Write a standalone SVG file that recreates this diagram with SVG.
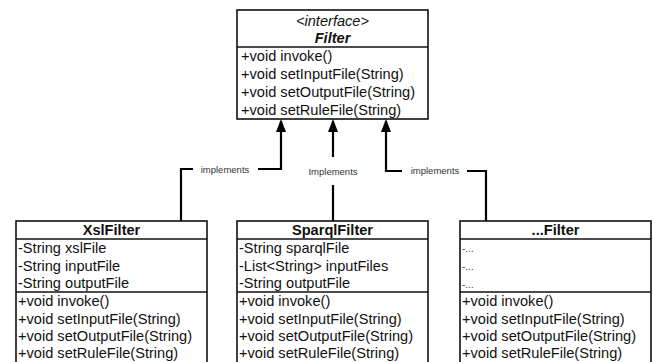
<svg xmlns="http://www.w3.org/2000/svg" width="653" height="362" viewBox="0 0 653 362">
<defs>
<style>
.box{fill:#fff;stroke:#111;stroke-width:1.6}
.div{stroke:#111;stroke-width:1.4}
.t{font-family:"Liberation Sans",Arial,sans-serif;font-size:14.6px;fill:#111}
.h{font-family:"Liberation Sans",Arial,sans-serif;font-size:14.6px;font-weight:bold;fill:#111}
.lbl{font-family:"Liberation Sans",Arial,sans-serif;font-size:9.5px;fill:#333}
.dots{font-family:"Liberation Sans",Arial,sans-serif;font-size:10px;fill:#444}
.conn{fill:none;stroke:#000;stroke-width:2.2}
.head{fill:#000}
</style>
</defs>
<rect width="653" height="362" fill="#fff"/>

<g id="connectors">
<path class="conn" d="M281,121 V169 H258"/>
<path class="conn" d="M193,169 H181 V221"/>
<path class="conn" d="M333,121 V157"/>
<path class="conn" d="M333,185 V221"/>
<path class="conn" d="M386,121 V171 H402"/>
<path class="conn" d="M467,171 H486 V221"/>
<path class="head" d="M281,119 L286,132 L276,132 Z"/>
<path class="head" d="M333,119 L338,132 L328,132 Z"/>
<path class="head" d="M386,119 L391,132 L381,132 Z"/>
<text class="lbl" x="225" y="173" text-anchor="middle">implements</text>
<text class="lbl" x="333" y="175" text-anchor="middle">Implements</text>
<text class="lbl" x="435" y="174" text-anchor="middle">implements</text>
</g>

<g id="Filter">
<rect class="box" x="237" y="10" width="191" height="109"/>
<line class="div" x1="237" y1="47" x2="428" y2="47"/>
<text class="t" x="332.5" y="26" text-anchor="middle" font-style="italic">&lt;interface&gt;</text>
<text class="h" x="332.5" y="43" text-anchor="middle" font-style="italic">Filter</text>
<text class="t" x="241" y="61">+void invoke()</text>
<text class="t" x="241" y="79">+void setInputFile(String)</text>
<text class="t" x="241" y="97">+void setOutputFile(String)</text>
<text class="t" x="241" y="115">+void setRuleFile(String)</text>
</g>

<g id="XslFilter">
<rect class="box" x="16" y="221" width="191" height="150"/>
<line class="div" x1="16" y1="239" x2="207" y2="239"/>
<line class="div" x1="16" y1="292" x2="207" y2="292"/>
<text class="h" x="111.5" y="235" text-anchor="middle">XslFilter</text>
<text class="t" x="18" y="253">-String xslFile</text>
<text class="t" x="18" y="270.5">-String inputFile</text>
<text class="t" x="18" y="288">-String outputFile</text>
<text class="t" x="18" y="306">+void invoke()</text>
<text class="t" x="18" y="323.5">+void setInputFile(String)</text>
<text class="t" x="18" y="341">+void setOutputFile(String)</text>
<text class="t" x="18" y="358">+void setRuleFile(String)</text>
</g>

<g id="SparqlFilter">
<rect class="box" x="237" y="221" width="191" height="150"/>
<line class="div" x1="237" y1="239" x2="428" y2="239"/>
<line class="div" x1="237" y1="292" x2="428" y2="292"/>
<text class="h" x="332.5" y="235" text-anchor="middle">SparqlFilter</text>
<text class="t" x="239" y="253">-String sparqlFile</text>
<text class="t" x="239" y="270.5">-List&lt;String&gt; inputFiles</text>
<text class="t" x="239" y="288">-String outputFile</text>
<text class="t" x="239" y="306">+void invoke()</text>
<text class="t" x="239" y="323.5">+void setInputFile(String)</text>
<text class="t" x="239" y="341">+void setOutputFile(String)</text>
<text class="t" x="239" y="358">+void setRuleFile(String)</text>
</g>

<g id="DotsFilter">
<rect class="box" x="460" y="221" width="191" height="150"/>
<line class="div" x1="460" y1="239" x2="651" y2="239"/>
<line class="div" x1="460" y1="292" x2="651" y2="292"/>
<text class="h" x="555.5" y="235" text-anchor="middle">...Filter</text>
<text class="dots" x="462" y="252">-...</text>
<text class="dots" x="462" y="270">-...</text>
<text class="dots" x="462" y="288">-...</text>
<text class="t" x="462" y="306">+void invoke()</text>
<text class="t" x="462" y="323.5">+void setInputFile(String)</text>
<text class="t" x="462" y="341">+void setOutputFile(String)</text>
<text class="t" x="462" y="358">+void setRuleFile(String)</text>
</g>
</svg>
